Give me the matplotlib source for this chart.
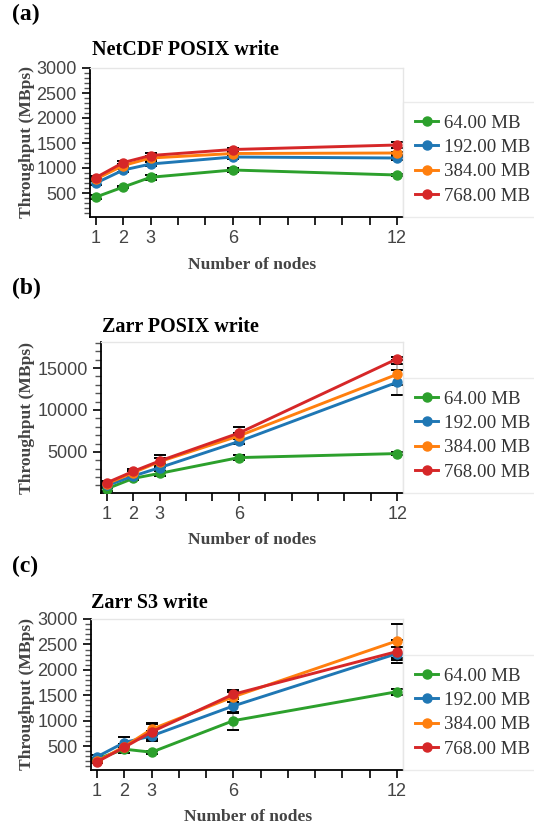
import matplotlib
matplotlib.use('Agg')
import matplotlib.pyplot as plt
from matplotlib.ticker import MultipleLocator, FixedLocator, FixedFormatter

# x positions (number of nodes) and series names
nodes = [1, 2, 3, 6, 12]
sizes = ['64.00 MB', '192.00 MB', '384.00 MB', '768.00 MB']
colors = ['#2ca02c', '#1f77b4', '#ff7f0e', '#d62728']
xtick_labels = ['1', '2', '3', '', '', '6', '', '', '', '', '', '12']

# (a) NetCDF POSIX write, mean throughput and error, one row per size
netcdf_posix = [[420, 620, 815, 960, 860],
                [700, 960, 1080, 1220, 1200],
                [780, 1050, 1200, 1290, 1300],
                [810, 1110, 1250, 1370, 1460]]
netcdf_posix_err = [[40, 20, 50, 40, 25],
                    [40, 30, 40, 40, 30],
                    [30, 30, 50, 30, 30],
                    [30, 40, 60, 40, 60]]

# (b) Zarr POSIX write
zarr_posix = [[600, 1840, 2440, 4320, 4800],
              [1000, 2120, 3120, 6240, 13300],
              [1200, 2520, 3840, 6900, 14250],
              [1320, 2680, 3920, 7240, 16100]]
zarr_posix_err = [[300, 200, 300, 300, 200],
                  [300, 200, 400, 300, 1480],
                  [200, 200, 400, 400, 1240],
                  [200, 300, 680, 680, 200]]

# (c) Zarr S3 write
zarr_s3 = [[245, 440, 380, 1000, 1570],
           [290, 570, 700, 1290, 2320],
           [200, 490, 830, 1470, 2570],
           [190, 475, 780, 1520, 2360]]
zarr_s3_err = [[30, 70, 30, 180, 60],
               [40, 110, 100, 130, 120],
               [30, 50, 120, 100, 340],
               [30, 50, 150, 80, 220]]

W, H = 534, 826
SERIF = 'Liberation Serif'
SANS = 'Liberation Sans'
GREY = '#444444'

fig = plt.figure(figsize=(W / 100, H / 100), dpi=100)


def px_axes(left, top, right, bottom):
    return fig.add_axes([left / W, 1 - bottom / H, (right - left) / W, (bottom - top) / H])


def draw_panel(box, values, errors, ylim, major, minor, tag, tag_y, title, title_x, title_y, xlabel_x, xlabel_y):
    ax = px_axes(*box)
    for vals, errs, col, lab in zip(values, errors, colors, sizes):
        eb = ax.errorbar(nodes, vals, yerr=errs, fmt='none', ecolor='black',
                         elinewidth=1.2, capsize=4, capthick=1.4, zorder=2)
        for bl in eb[2]:
            bl.set_alpha(0.3)
        ax.plot(nodes, vals, color=col, lw=2.1, marker='o', markersize=6.5,
                label=lab, zorder=3)

    ax.set_xlim(0.78, 12.22)
    ax.set_ylim(*ylim)
    ax.xaxis.set_major_locator(FixedLocator(range(1, 13)))
    ax.xaxis.set_major_formatter(FixedFormatter(xtick_labels))
    ax.yaxis.set_major_locator(MultipleLocator(major))
    ax.yaxis.set_minor_locator(MultipleLocator(minor))

    for side in ['top', 'right']:
        ax.spines[side].set_color('#e6e6e6')
        ax.spines[side].set_linewidth(1)
    for side in ['left', 'bottom']:
        ax.spines[side].set_color('black')
        ax.spines[side].set_linewidth(1.3)

    ax.tick_params(axis='both', which='major', length=6, width=1.2, color='black',
                   labelsize=13, labelcolor=GREY, pad=3.5)
    ax.tick_params(axis='y', which='minor', length=4, width=1, color='#555555')
    for t in ax.get_xticklabels() + ax.get_yticklabels():
        t.set_family(SANS)

    leg = ax.legend(loc='lower left', bbox_to_anchor=(1.0, 0.0), borderaxespad=0,
                    frameon=True, fancybox=False, edgecolor='#e6e6e6',
                    prop={'family': SERIF, 'size': 13.6}, handlelength=1.2,
                    handletextpad=0.3, labelspacing=0.38, borderpad=0.65)
    leg.get_frame().set_linewidth(1)
    for t in leg.get_texts():
        t.set_color('#333333')

    fig.text(12 / W, 1 - tag_y / H, tag, family=SERIF, fontweight='bold',
             fontsize=17, va='baseline', ha='left')
    fig.text(title_x / W, 1 - title_y / H, title, family=SERIF, fontweight='bold',
             fontsize=14.5, va='baseline', ha='left')
    fig.text(xlabel_x / W, 1 - xlabel_y / H, 'Number of nodes', family=SERIF,
             fontweight='bold', fontsize=12.6, color=GREY, va='baseline', ha='center')
    mid = (box[1] + box[3]) / 2
    fig.text(27 / W, 1 - mid / H, 'Throughput (MBps)', family=SERIF, fontweight='bold',
             fontsize=12.6, color=GREY, rotation=90, va='center', ha='center')
    return ax


draw_panel((90, 68, 403, 217), netcdf_posix, netcdf_posix_err, (20, 3000), 500, 100,
           '(a)', 20, 'NetCDF POSIX write', 92, 55, 252, 269)
draw_panel((101, 342, 403, 493), zarr_posix, zarr_posix_err, (100, 18100), 5000, 1000,
           '(b)', 294, 'Zarr POSIX write', 102, 332, 252, 544)
draw_panel((91, 619, 403, 770), zarr_s3, zarr_s3_err, (30, 3000), 500, 100,
           '(c)', 572, 'Zarr S3 write', 91, 608, 248, 821)

fig.savefig('out.png', dpi=100)
